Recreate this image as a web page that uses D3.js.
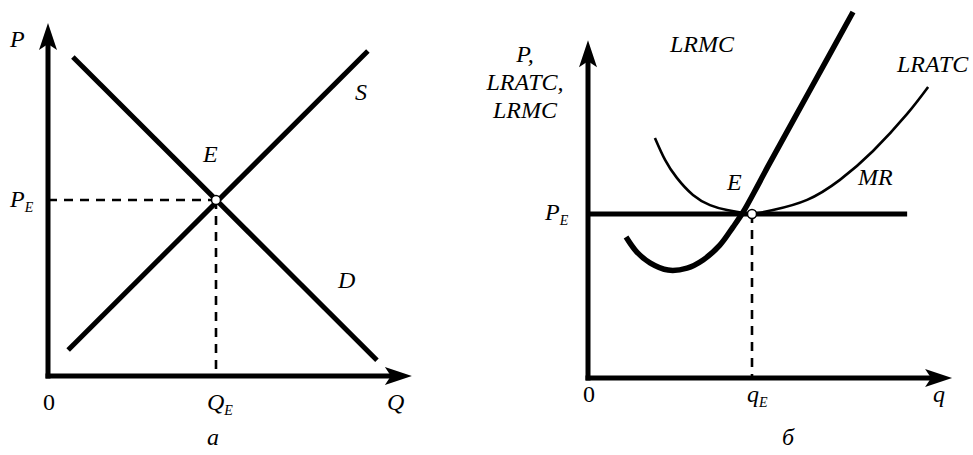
<!DOCTYPE html>
<html><head><meta charset="utf-8">
<script src="https://cdn.jsdelivr.net/npm/d3@7"></script>
<style>body{margin:0;background:#fff}svg{display:block}
text{font-family:"Liberation Serif","Times New Roman",Tinos,"DejaVu Serif",serif;}
</style>
</head><body>
<svg id="c" width="973" height="455"></svg>
<script>
// ---- Panel "а": supply & demand ----
const demandQ = [0.74, 9.79];
const demandP = [9.06, 0.45];
const supplyQ = [0.60, 9.52];
const supplyP = [0.74, 9.23];
const eqAQ = 5, eqAP = 5;

// ---- Panel "б": long-run equilibrium of the firm ----
const lrmcQ = [1.16, 1.49, 1.89, 2.44, 3.02, 3.51, 4.02, 4.42, 4.73, 5.15, 5.49, 6.77, 8.08];
const lrmcP = [4.30, 3.84, 3.51, 3.29, 3.35, 3.60, 4.05, 4.60, 5.06, 5.82, 6.46, 8.78, 11.16];
const lratcQ = [2.04, 2.35, 2.71, 3.20, 3.72, 4.24, 4.73, 5.00, 5.64, 6.68, 7.68, 8.69, 9.73, 10.37];
const lratcP = [7.32, 6.65, 6.10, 5.58, 5.27, 5.12, 5.03, 5.00, 5.12, 5.43, 6.04, 6.92, 8.05, 8.87];
const mrQ = [0, 9.73];
const mrP = [5, 5];
const eqBQ = 5, eqBP = 5;

const svg = d3.select("#c");

function zip(a, b) { return a.map((v, i) => [v, b[i]]); }

function arrowUp(g, x, t) {
  g.append("path").attr("d", `M${x},${t} L${x-9},${t+27} L${x},${t+21} L${x+9},${t+27} Z`).attr("fill", "#000");
}
function arrowRight(g, t, y) {
  g.append("path").attr("d", `M${t},${y} L${t-27},${y-9} L${t-21},${y} L${t-27},${y+9} Z`).attr("fill", "#000");
}
function label(g, x, y, main, sub, opts = {}) {
  const t = g.append("text").attr("x", x).attr("y", y)
    .style("font-size", (opts.size || 24) + "px")
    .style("font-style", opts.upright ? "normal" : "italic")
    .attr("text-anchor", opts.anchor || "start").attr("fill", "#000");
  t.append("tspan").text(main);
  if (sub) t.append("tspan").style("font-size", "14px").attr("dy", 5).text(sub);
  return t;
}

// ================= Panel a =================
{
  const x = d3.scaleLinear().domain([0, 10]).range([48, 384]);
  const y = d3.scaleLinear().domain([0, 10]).range([376, 24]);
  const g = svg.append("g");
  const line = d3.line().x(d => x(d[0])).y(d => y(d[1]));

  g.append("path").attr("d", line([[0, eqAP], [eqAQ, eqAP]]))
    .attr("stroke", "#000").attr("stroke-width", 2.6).attr("stroke-dasharray", "9,7").attr("fill", "none");
  g.append("path").attr("d", line([[eqAQ, eqAP], [eqAQ, 0]]))
    .attr("stroke", "#000").attr("stroke-width", 2.6).attr("stroke-dasharray", "9,7").attr("fill", "none");

  g.append("path").attr("d", line(zip(demandQ, demandP))).attr("stroke", "#000").attr("stroke-width", 5).attr("fill", "none");
  g.append("path").attr("d", line(zip(supplyQ, supplyP))).attr("stroke", "#000").attr("stroke-width", 5).attr("fill", "none");

  g.append("line").attr("x1", x(0)).attr("x2", x(0)).attr("y1", y(0) + 2.5).attr("y2", y(10.03) + 10)
    .attr("stroke", "#000").attr("stroke-width", 5);
  g.append("line").attr("x1", x(0) - 2.5).attr("x2", x(10.83) - 10).attr("y1", y(0)).attr("y2", y(0))
    .attr("stroke", "#000").attr("stroke-width", 5);
  arrowUp(g, x(0), y(10.03));
  arrowRight(g, x(10.83), y(0));

  g.append("circle").attr("cx", x(eqAQ)).attr("cy", y(eqAP)).attr("r", 4.5)
    .attr("fill", "#fff").attr("stroke", "#000").attr("stroke-width", 1.5);

  label(g, 10, 47, "P");
  label(g, 10, 207, "P", "E");
  label(g, 203, 162, "E");
  label(g, 355, 100, "S");
  label(g, 338, 288, "D");
  label(g, 43, 410, "0", null, { upright: true });
  label(g, 207, 410, "Q", "E");
  label(g, 387, 410, "Q");
  label(g, 213, 445, "а", null, { anchor: "middle" });
}

// ================= Panel b =================
{
  const x = d3.scaleLinear().domain([0, 10]).range([588, 916]);
  const y = d3.scaleLinear().domain([0, 10]).range([378, 50]);
  const g = svg.append("g");
  const line = d3.line().x(d => x(d[0])).y(d => y(d[1]));
  const smooth = d3.line().x(d => x(d[0])).y(d => y(d[1])).curve(d3.curveNatural);
  const cr = d3.line().x(d => x(d[0])).y(d => y(d[1])).curve(d3.curveCatmullRom.alpha(0.5));

  g.append("path").attr("d", line([[eqBQ, eqBP], [eqBQ, 0]]))
    .attr("stroke", "#000").attr("stroke-width", 2.6).attr("stroke-dasharray", "9,7").attr("fill", "none");

  g.append("path").attr("d", smooth(zip(lratcQ, lratcP))).attr("stroke", "#000").attr("stroke-width", 2.6).attr("fill", "none");
  g.append("path").attr("d", line(zip(mrQ, mrP))).attr("stroke", "#000").attr("stroke-width", 5).attr("fill", "none");
  g.append("path").attr("d", cr(zip(lrmcQ, lrmcP))).attr("stroke", "#000").attr("stroke-width", 5.5).attr("fill", "none");

  g.append("line").attr("x1", x(0)).attr("x2", x(0)).attr("y1", y(0) + 2.5).attr("y2", y(10.3) + 10)
    .attr("stroke", "#000").attr("stroke-width", 5);
  g.append("line").attr("x1", x(0) - 2.5).attr("x2", x(11.1) - 10).attr("y1", y(0)).attr("y2", y(0))
    .attr("stroke", "#000").attr("stroke-width", 5);
  arrowUp(g, x(0), y(10.3));
  arrowRight(g, x(11.1), y(0));

  g.append("circle").attr("cx", x(eqBQ)).attr("cy", y(eqBP)).attr("r", 4.5)
    .attr("fill", "#fff").attr("stroke", "#000").attr("stroke-width", 1.5);

  label(g, 525, 62, "P,", null, { anchor: "middle" });
  label(g, 525, 90, "LRATC,", null, { anchor: "middle" });
  label(g, 525, 118, "LRMC", null, { anchor: "middle" });
  label(g, 670, 52, "LRMC");
  label(g, 897, 72, "LRATC");
  label(g, 858, 185, "MR");
  label(g, 727, 190, "E");
  label(g, 545, 220, "P", "E");
  label(g, 583, 402, "0", null, { upright: true });
  label(g, 747, 402, "q", "E");
  label(g, 933, 402, "q");
  label(g, 788, 445, "б", null, { anchor: "middle" });
}
</script>
</body></html>
